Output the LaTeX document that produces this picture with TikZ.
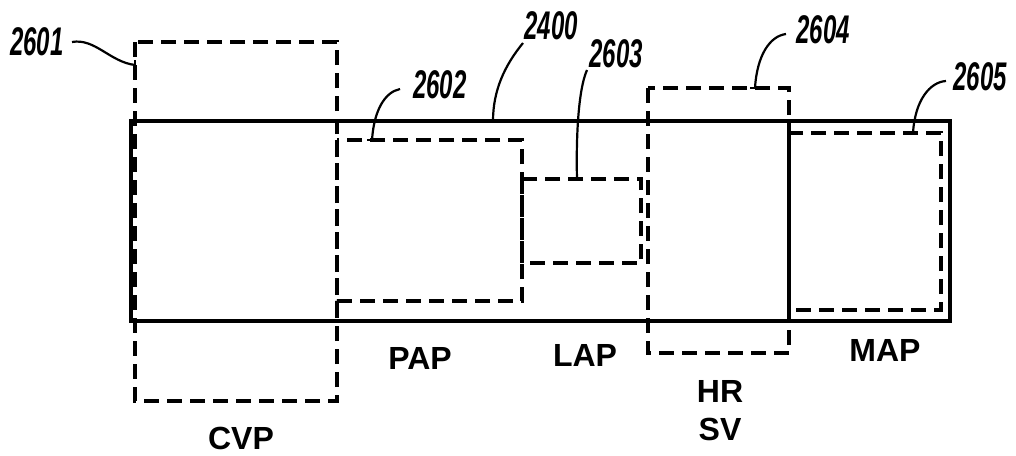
\documentclass[tikz,border=0pt]{standalone}
\usepackage{fontspec}
\setmainfont{Liberation Sans}
\begin{document}
\begin{tikzpicture}[x=1pt,y=-1pt,
  mainbox/.style={line width=3.4pt},
  dbox/.style={line width=3.4pt,dash pattern=on 15pt off 8pt},
  leader/.style={line width=2.2pt},
  refnum/.style={inner sep=0pt,font=\fontsize{40}{40}\selectfont\bfseries\itshape},
  lab/.style={inner sep=0pt,font=\fontsize{32}{34}\selectfont\bfseries,align=center}]
\useasboundingbox (0,0) rectangle (1016,455);
% main rectangle
\draw[mainbox] (131,121) rectangle (950,321);
% dashed boxes
\draw[dbox] (135,42) rectangle (337,401);
\draw[dbox] (337,140) rectangle (522,301);
\draw[dbox] (522,179) rectangle (641,263);
\draw[dbox] (648,88) rectangle (789,353);
\draw[dbox] (789,133) rectangle (941,310);
% reference numerals
\newcommand{\rn}[1]{\scalebox{0.6}[1]{#1}}
\node[refnum] (n2601) at (37,42) {\rn{2601}};
\node[refnum] (n2400) at (551,26) {\rn{2400}};
\node[refnum] (n2602) at (440,85) {\rn{2602}};
\node[refnum] (n2603) at (616,54) {\rn{2603}};
\node[refnum] (n2604) at (823,30) {\rn{2604}};
\node[refnum] (n2605) at (980,77) {\rn{2605}};
% leader end points
\coordinate (e2601) at (135,65);
\coordinate (e2400) at (493,121);
\coordinate (e2602) at (372,140);
\coordinate (e2603) at (577,179);
\coordinate (e2604) at (755,88);
\coordinate (e2605) at (913,133);
% leaders
\draw[leader] (72,42) .. controls (95,38) and (110,62) .. (e2601);
\draw[leader] (e2601) ++(0,-5) -- ++(0,10);
\draw[leader] (523,43) .. controls (505,65) and (493,90) .. (e2400);
\draw[leader] (400,89) .. controls (385,92) and (374,110) .. (e2602);
\draw[leader] (e2602) ++(-5,0) -- ++(10,0);
\draw[leader] (587,70) .. controls (578,90) and (576,140) .. (e2603);
\draw[leader] (e2603) ++(-5,0) -- ++(10,0);
\draw[leader] (786,34) .. controls (770,36) and (757,55) .. (e2604);
\draw[leader] (e2604) ++(-5,0) -- ++(10,0);
\draw[leader] (946,81) .. controls (930,82) and (915,100) .. (e2605);
\draw[leader] (e2605) ++(-5,0) -- ++(10,0);
% labels
\node[lab] (cvp) at (241,438) {CVP};
\node[lab] (pap) at (420,358) {PAP};
\node[lab] (lap) at (585,355) {LAP};
\node[lab] (map) at (885,350) {MAP};
\node[lab] (hr) at (720,391) {HR};
\node[lab] (sv) at (720,429) {SV};
\end{tikzpicture}
\end{document}
